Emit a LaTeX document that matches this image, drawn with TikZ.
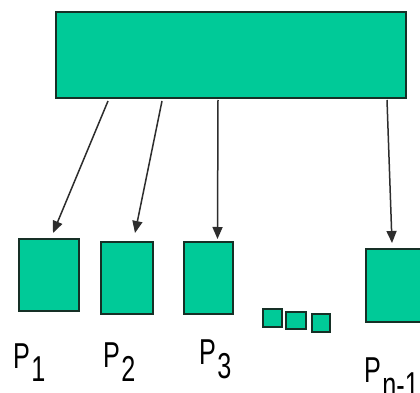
\documentclass[tikz,border=0pt]{standalone}
\usepackage{fontspec}
\setmainfont{Liberation Sans}
\usetikzlibrary{calc,arrows.meta}
\definecolor{boxfill}{RGB}{0,202,152}
\definecolor{boxline}{RGB}{22,48,38}
\definecolor{arrowcol}{RGB}{45,45,45}
\tikzset{
  procbox/.style={draw=boxline, fill=boxfill, line width=2pt, inner sep=0pt},
  feed/.style={draw=arrowcol, line width=1.5pt,
    -{Triangle[length=12pt,width=10pt]}},
  plabel/.style={anchor=base west, inner sep=0pt,
    font=\fontsize{36}{40}\selectfont}
}
\newcommand{\plab}[2]{\scalebox{0.7}[1]{P\kern2pt\raisebox{-#2}{#1}}}
\begin{document}
\begin{tikzpicture}[x=1pt,y=-1pt]
  \useasboundingbox (0,0) rectangle (420,393);
  \clip (0,0) rectangle (420,393);
  \fill[white] (0,0) rectangle (420,393);

  % central block
  \node[procbox, minimum width=350pt, minimum height=86pt] (host) at (231,55) {};

  % processors
  \node[procbox, minimum width=60pt, minimum height=72pt] (p1) at (49,275) {};
  \node[procbox, minimum width=52pt, minimum height=72pt] (p2) at (127,278) {};
  \node[procbox, minimum width=49pt, minimum height=72pt] (p3) at (208.5,278) {};
  \node[procbox, minimum width=64pt, minimum height=73pt] (pn) at (398,285.5) {};

  % ellipsis boxes
  \node[procbox, minimum width=19pt, minimum height=18pt] (s1) at (272,318) {};
  \node[procbox, minimum width=20pt, minimum height=17pt] (s2) at (295.5,320.5) {};
  \node[procbox, minimum width=18pt, minimum height=18pt] (s3) at (321,323) {};

  % arrow start points along the bottom edge of the block
  \coordinate (a1) at ($(host.south west)+(53,2)$);
  \coordinate (a2) at ($(host.south west)+(107,2)$);
  \coordinate (a3) at ($(host.south west)+(163,1)$);
  \coordinate (a4) at ($(host.south west)+(332,1)$);

  % arrow end points just above each processor
  \coordinate (t1) at ($(p1.north)+(4,-5)$);
  \coordinate (t2) at ($(p2.north)+(8,-8)$);
  \coordinate (t3) at ($(p3.north)+(9,-2)$);
  \coordinate (t4) at ($(pn.north)+(-6,-5)$);

  \draw[feed] (a1) -- (t1);
  \draw[feed] (a2) -- (t2);
  \draw[feed] (a3) -- (t3);
  \draw[feed] (a4) -- (t4);

  % labels
  \node[plabel] (l1) at (13,368) {\plab{1}{13pt}};
  \node[plabel] (l2) at (103,367) {\plab{2}{14pt}};
  \node[plabel] (l3) at (199,364) {\plab{3}{14pt}};
  \node[plabel] (l4) at (364,382) {\plab{n-1}{15pt}};
\end{tikzpicture}
\end{document}
